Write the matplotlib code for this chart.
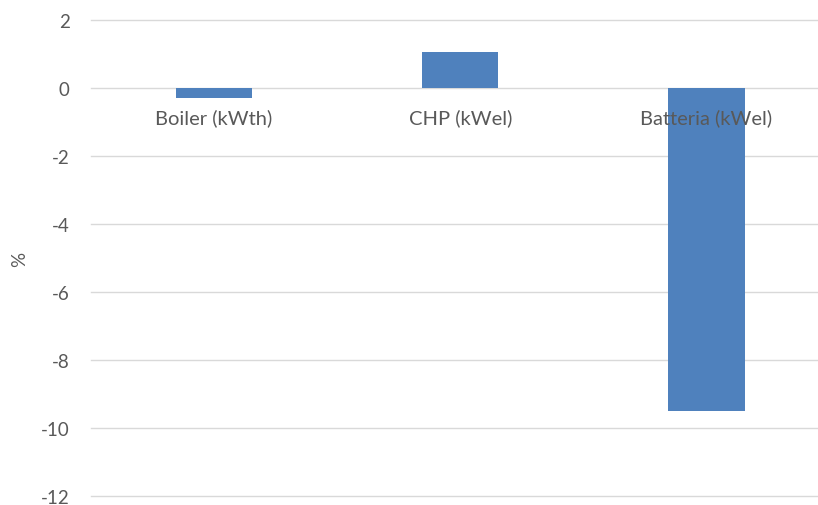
import numpy as np
import matplotlib.pyplot as plt

# category names and percentage change per component
categories = ["Boiler (kWth)", "CHP (kWel)", "Batteria (kWel)"]
values = [-0.29, 1.07, -9.5]
y_ticks = [2, 0, -2, -4, -6, -8, -10, -12]

bar_color = "#4F81BD"
grid_color = "#D9D9D9"
text_color = "#595959"

plt.rcParams["font.family"] = ["Lato", "DejaVu Sans"]
plt.rcParams["axes.unicode_minus"] = False

fig = plt.figure(figsize=(8.18, 5.06), dpi=100)
# plot area is slightly wider than the canvas on the right
ax = fig.add_axes([90.7 / 818, 9 / 506, 739 / 818, 476 / 506])

x = np.arange(len(categories))
ax.bar(x, values, width=0.31, color=bar_color, zorder=2)

ax.set_xlim(-0.5, len(categories) - 0.5)
ax.set_ylim(min(y_ticks), max(y_ticks))
ax.set_yticks(y_ticks)
ax.yaxis.grid(True, color=grid_color, linewidth=1.0, zorder=0)
for gl in ax.get_ygridlines():
    gl.set_clip_on(False)
ax.set_axisbelow(True)
ax.set_xticks([])

for s in ax.spines.values():
    s.set_visible(False)
ax.tick_params(axis="y", length=0, pad=15, labelsize=13.5, labelcolor=text_color)

# category labels sit just under the zero line, drawn over the bars
for xi, name in zip(x, categories):
    ax.annotate(name, (xi, 0), xytext=(0, -21), textcoords="offset points",
                ha="center", va="center", fontsize=14.5, color=text_color, zorder=5)

ax.set_ylabel("%", fontsize=13.5, color=text_color, labelpad=9)

fig.savefig("out.png", dpi=100)
